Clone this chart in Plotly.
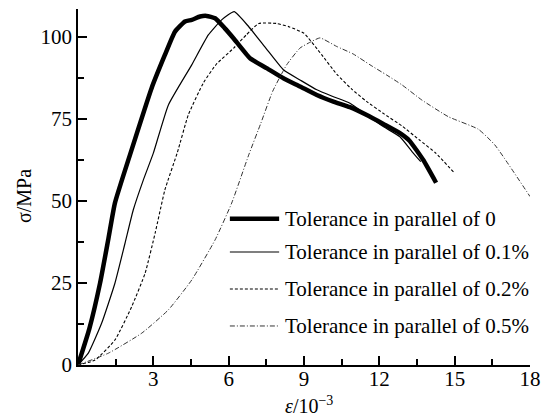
import plotly.graph_objects as go

# ---- data (strain in 1e-3, stress in MPa) ----
names = ["Tolerance in parallel of 0", "Tolerance in parallel of 0.1%",
         "Tolerance in parallel of 0.2%", "Tolerance in parallel of 0.5%"]

x0 = [0, 0.45, 0.88, 1.2, 1.47, 2.07, 2.93, 3.46, 3.86, 4.26, 4.53, 4.86, 5.12, 5.46, 5.85, 6.19,
      6.85, 7.51, 8.18, 8.84, 9.51, 10.17, 10.83, 11.5, 12.16, 12.82, 13.2, 13.75, 14.26]
y0 = [0, 11, 25, 38, 49.3, 64, 84.3, 94.4, 101.5, 104.6, 105.1, 106.1, 106.3, 105.6, 102.5, 99.5,
      93.4, 90.4, 87.3, 84.8, 82.2, 80.2, 78.5, 76.1, 73.4, 70.6, 68.3, 62.4, 55.5]

x1 = [0, 0.41, 0.94, 1.47, 1.87, 2.2, 2.6, 3.0, 3.6, 4.53, 5.19, 5.72, 6.22, 6.8, 7.48,
      8.18, 8.84, 9.51, 10.17, 10.83, 11.5, 12.16, 12.82, 13.3, 13.65]
y1 = [0, 3.6, 12.7, 24.9, 37, 47.2, 56.3, 64.5, 79.2, 91.4, 100.5, 105.1, 107.6, 103, 96.5,
      89.9, 86.8, 83.8, 81.7, 79.7, 76.1, 72.6, 69.5, 65, 61.9]

x2 = [0, 0.68, 1.47, 2.14, 2.67, 3.07, 3.46, 3.96, 4.39, 5.0, 5.5, 6.2, 6.7, 7.2, 7.9,
      8.4, 9.0, 9.7, 10.3, 10.9, 11.5, 12.2, 12.9, 13.6, 14.25, 15.0]
y2 = [0, 1.5, 7.6, 17.8, 27.9, 40.1, 53.3, 64.8, 76.1, 86, 91.5, 96.5, 100.5, 104, 104,
      103, 101, 94.5, 88.6, 84, 80.2, 76.4, 72.8, 68.5, 64.5, 58.4]

x3 = [0, 1.21, 2.54, 3.6, 4.53, 5.46, 6.12, 6.8, 7.28, 7.75, 8.31, 8.84, 9.3, 9.64, 10.3,
      10.96, 11.63, 12.29, 12.9, 13.69, 14.75, 15.94, 16.6, 18.0]
y3 = [0, 3.6, 9.7, 16.8, 25.9, 38.1, 49.3, 64, 73.6, 83.3, 91.4, 96.5, 98.5, 99.6, 97,
      94.7, 91.4, 88.3, 85.3, 80.7, 75.6, 71.8, 67, 51.3]

x_ticks = [3, 6, 9, 12, 15, 18]
y_ticks = [0, 25, 50, 75, 100]

styles = [dict(color="black", width=4.5, dash="solid"),
          dict(color="black", width=1.2, dash="solid"),
          dict(color="black", width=1.1, dash="3px,2px"),
          dict(color="#333333", width=1.0, dash="5px,2px,1px,2px")]

FONT = "Liberation Serif"

fig = go.Figure()
for xs, ys, st, nm in zip([x0, x1, x2, x3], [y0, y1, y2, y3], styles, names):
    fig.add_trace(go.Scatter(x=xs, y=ys, mode="lines", name=nm, line=st,
                             line_shape="spline", line_smoothing=0.45, showlegend=False))

# manual legend (paper coordinates)
leg_y = [0.411, 0.3174, 0.2135, 0.1096]
for ly, st, nm in zip(leg_y, styles, names):
    fig.add_shape(type="line", xref="paper", yref="paper", x0=0.336, x1=0.445, y0=ly, y1=ly,
                  line=st)
    fig.add_annotation(xref="paper", yref="paper", x=0.454, y=ly, text=nm, showarrow=False,
                       xanchor="left", yanchor="middle", font=dict(family=FONT, size=21, color="black"))

# axis titles
fig.add_annotation(xref="paper", yref="paper", x=(309 - 78) / 452, y=(365 - 405) / 356,
                   text="<i>ε</i>/10<sup>−3</sup>", showarrow=False, xanchor="center", yanchor="middle",
                   font=dict(family=FONT, size=20, color="black"))
fig.add_annotation(xref="paper", yref="paper", x=(24 - 78) / 452, y=(365 - 196) / 356,
                   text="σ/MPa", textangle=-90, showarrow=False, xanchor="center", yanchor="middle",
                   font=dict(family=FONT, size=20, color="black"))

fig.update_layout(
    width=553, height=417,
    margin=dict(l=78, r=23, t=9, b=52),
    paper_bgcolor="white", plot_bgcolor="white",
    font=dict(family=FONT, size=21, color="black"),
    xaxis=dict(range=[0, 18], tickvals=x_ticks, ticks="inside", ticklen=9, tickwidth=1.5,
               tickcolor="black", showline=True, linecolor="black", linewidth=1.5,
               showgrid=False, zeroline=False, tickfont=dict(family=FONT, size=21),
               ticklabelstandoff=-6,
               minor=dict(dtick=1.5, tick0=0, ticks="inside", ticklen=6, tickwidth=1.5,
                          tickcolor="black", showgrid=False)),
    yaxis=dict(range=[0, 108.4], tickvals=y_ticks, ticks="inside", ticklen=9, tickwidth=1.5,
               tickcolor="black", showline=True, linecolor="black", linewidth=1.5,
               showgrid=False, zeroline=False, tickfont=dict(family=FONT, size=21),
               minor=dict(dtick=12.5, tick0=0, ticks="inside", ticklen=6, tickwidth=1.5,
                          tickcolor="black", showgrid=False)),
)

fig.write_html("out.html")
